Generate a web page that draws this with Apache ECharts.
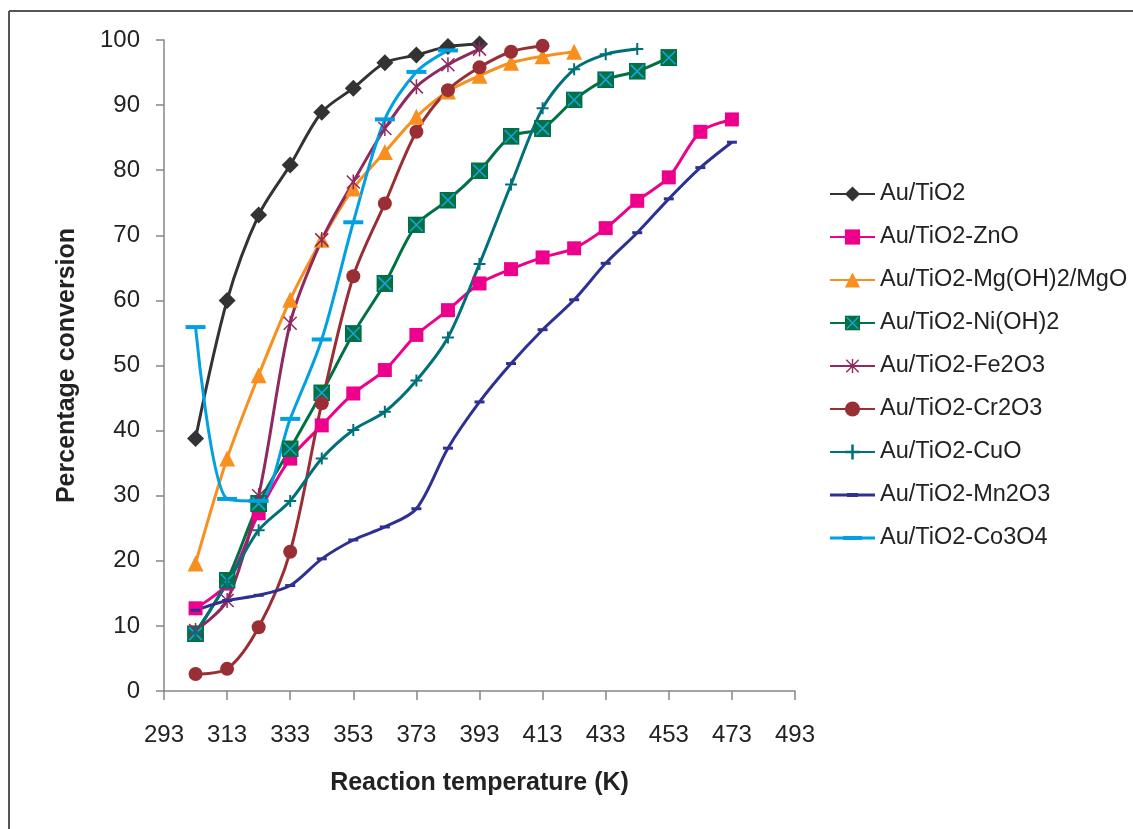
<!DOCTYPE html>
<html>
<head>
<meta charset="utf-8">
<script src="https://cdn.jsdelivr.net/npm/echarts@6/dist/echarts.min.js"></script>
<style>
  html, body { margin: 0; padding: 0; background: #fff; }
  #chart { width: 1133px; height: 829px; }
</style>
</head>
<body>
<div id="chart"></div>
<script>
// 温度 (K)
const temps = [303, 313, 323, 333, 343, 353, 363, 373, 383, 393, 403, 413, 423, 433, 443, 453, 463, 473];

// 各催化剂的转化率 (%)
const auTiO2 = [38.8, 60.0, 73.1, 80.8, 88.9, 92.6, 96.5, 97.7, 99.0, 99.4];
const auZnO = [12.7, 16.5, 27.3, 35.7, 40.8, 45.7, 49.3, 54.7, 58.5, 62.6, 64.8, 66.6, 68.0, 71.1, 75.3, 78.9, 85.9, 87.8];
const auMg = [19.6, 35.7, 48.5, 60.1, 69.3, 77.2, 82.8, 88.2, 92.1, 94.5, 96.5, 97.5, 98.2];
const auNi = [8.8, 17.0, 28.8, 37.2, 45.8, 54.9, 62.6, 71.6, 75.4, 79.9, 85.2, 86.4, 90.8, 93.9, 95.2, 97.3];
const auFe = [9.3, 13.9, 30.0, 56.5, 69.3, 78.2, 86.4, 92.8, 96.2, 98.6];
const auCr = [2.6, 3.4, 9.8, 21.4, 44.2, 63.7, 74.9, 85.9, 92.3, 95.8, 98.2, 99.1];
const auCu = [9.0, 16.5, 24.7, 29.2, 35.7, 40.1, 42.9, 47.7, 54.3, 65.6, 77.8, 89.5, 95.5, 97.8, 98.6];
const auMn = [12.4, 13.9, 14.7, 16.2, 20.3, 23.2, 25.2, 28.0, 37.3, 44.4, 50.3, 55.5, 60.1, 65.7, 70.4, 75.6, 80.4, 84.3];
const auCo = [55.9, 29.5, 29.2, 41.8, 54.0, 72.0, 87.8, 95.1, 98.4];

const names = ['Au/TiO2', 'Au/TiO2-ZnO', 'Au/TiO2-Mg(OH)2/MgO', 'Au/TiO2-Ni(OH)2', 'Au/TiO2-Fe2O3',
  'Au/TiO2-Cr2O3', 'Au/TiO2-CuO', 'Au/TiO2-Mn2O3', 'Au/TiO2-Co3O4'];

const pair = vals => vals.map((v, i) => [temps[i], v]);

const svgSym = svg => 'image://data:image/svg+xml;charset=utf-8,' + encodeURIComponent(svg);

const niSym = svgSym("<svg xmlns='http://www.w3.org/2000/svg' width='32' height='32'>" +
  "<rect width='32' height='32' fill='#007142'/>" +
  "<path d='M4,4L28,28M28,4L4,28' stroke='#1BA1E2' stroke-width='3'/></svg>");
const feSym = svgSym("<svg xmlns='http://www.w3.org/2000/svg' width='32' height='32'>" +
  "<path d='M16,1V31M3,3L29,29M29,3L3,29' stroke='#8E2A5E' stroke-width='3' fill='none'/></svg>");
const plusSym = 'path://M5,0h2v5h5v2h-5v5h-2v-5h-5v-2h5z';

// 图例里的短横线标记：线 + 中间的短划
const mnIcon = 'path://M0,0h0.01v0.01h-0.01z M44.99,18.99h0.01v0.01h-0.01z M0,8h45v3h-45z M17,7.5h11v4h-11z';
const coIcon = 'path://M0,0h0.01v0.01h-0.01z M44.99,18.99h0.01v0.01h-0.01z M0,8h45v3h-45z M13,7.5h19v4h-19z';

function line(name, data, color, symbol, size) {
  return {
    name: name,
    type: 'line',
    data: pair(data),
    smooth: 0.3,
    symbol: symbol,
    symbolSize: size,
    showAllSymbol: true,
    lineStyle: { color: color, width: 3 },
    itemStyle: { color: color },
    emphasis: { disabled: true }
  };
}

const legendData = names.map(n => {
  if (n === 'Au/TiO2-Mn2O3') return { name: n, icon: mnIcon };
  if (n === 'Au/TiO2-Co3O4') return { name: n, icon: coIcon };
  return { name: n };
});

const chart = echarts.init(document.getElementById('chart'));
chart.setOption({
  animation: false,
  graphic: [
    { type: 'line', shape: { x1: 9, y1: 11, x2: 1133, y2: 11 }, style: { stroke: '#555', lineWidth: 2 } },
    { type: 'line', shape: { x1: 9, y1: 11, x2: 9, y2: 829 }, style: { stroke: '#555', lineWidth: 2 } }
  ],
  grid: { left: 164, top: 40, right: 338, bottom: 138 },
  legend: {
    data: legendData,
    orient: 'vertical',
    left: 824,
    top: 177,
    itemWidth: 45,
    itemHeight: 19,
    itemGap: 19,
    textStyle: { fontFamily: 'Liberation Sans, Arial', fontSize: 23.5, lineHeight: 24, color: '#222' }
  },
  xAxis: {
    type: 'value',
    min: 293,
    max: 493,
    interval: 20,
    name: 'Reaction temperature (K)',
    nameLocation: 'middle',
    nameGap: 80,
    nameTextStyle: { fontFamily: 'Liberation Sans, Arial', fontSize: 25, fontWeight: 'bold', color: '#222' },
    axisLine: { lineStyle: { color: '#868686', width: 1.5 } },
    axisTick: { length: 9, lineStyle: { color: '#868686', width: 1.5 } },
    axisLabel: { fontFamily: 'Liberation Sans, Arial', fontSize: 24, color: '#222', margin: 32 },
    splitLine: { show: false }
  },
  yAxis: {
    type: 'value',
    min: 0,
    max: 100,
    interval: 10,
    name: 'Percentage conversion',
    nameLocation: 'middle',
    nameGap: 84,
    nameTextStyle: { fontFamily: 'Liberation Sans, Arial', fontSize: 25, fontWeight: 'bold', color: '#222' },
    axisLine: { show: true, lineStyle: { color: '#868686', width: 1.5 } },
    axisTick: { show: true, length: 8, lineStyle: { color: '#868686', width: 1.5 } },
    axisLabel: { fontFamily: 'Liberation Sans, Arial', fontSize: 24, color: '#222', margin: 24 },
    splitLine: { show: false }
  },
  series: [
    line(names[0], auTiO2, '#333336', 'diamond', 17),
    line(names[1], auZnO, '#EC008C', 'rect', 14),
    line(names[2], auMg, '#F7901E', 'triangle', 16),
    line(names[3], auNi, '#007142', niSym, 17),
    line(names[4], auFe, '#8E2A5E', feSym, 16),
    line(names[5], auCr, '#9A2E35', 'circle', 14),
    line(names[6], auCu, '#00707A', plusSym, 12),
    line(names[7], auMn, '#2E3192', 'rect', [10, 3]),
    line(names[8], auCo, '#00A0E3', 'rect', [20, 4])
  ]
});
</script>
</body>
</html>
